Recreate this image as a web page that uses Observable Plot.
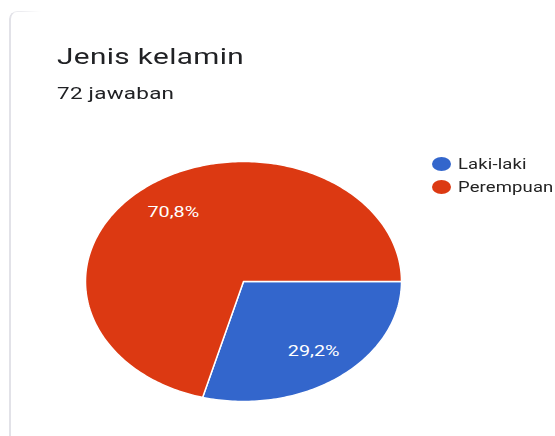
<!DOCTYPE html>
<html>
<head>
<meta charset="utf-8">
<script src="https://cdn.jsdelivr.net/npm/d3@7"></script>
<script src="https://cdn.jsdelivr.net/npm/@observablehq/plot@0.6"></script>
<style>
  html, body { margin: 0; padding: 0; background: #fff; width: 555px; height: 436px; overflow: hidden; font-family: Roboto, "Noto Sans", sans-serif; }
  #card { position: absolute; left: 9px; top: 11px; width: 30px; height: 425px; border-left: 2px solid #e2e2e8; border-top: 1px solid #ececf0; border-top-left-radius: 8px; -webkit-mask-image: linear-gradient(to right, #000 40%, transparent); }
  .stretch { transform: scaleX(1.32); transform-origin: 0 0; white-space: nowrap; }
  #title { position: absolute; left: 57px; top: 43px; font-size: 22.5px; line-height: 1.172; color: #202124; letter-spacing: 0.3px; }
  #subtitle { position: absolute; left: 57px; top: 84px; font-size: 17px; line-height: 1.172; color: #202124; letter-spacing: 0.2px; }
  #chart { position: absolute; left: 0; top: 140px; }
  #legend { position: absolute; left: 432px; top: 153px; font-size: 14px; color: #222; }
  #legend .item { display: flex; align-items: center; height: 22.5px; }
  #legend .sw { width: 19px; height: 14px; border-radius: 50%; margin-right: 7px; flex: none; }
  #legend .lbl { display: inline-block; transform: scaleX(1.32); transform-origin: 0 50%; white-space: nowrap; letter-spacing: 0.1px; }
</style>
</head>
<body>
<div id="card"></div>
<div id="title" class="stretch">Jenis kelamin</div>
<div id="subtitle" class="stretch">72 jawaban</div>
<div id="chart"></div>
<div id="legend"></div>
<script>
const categories = ["Laki-laki", "Perempuan"];
const counts = [21, 51];
const colors = ["#3366cc", "#dc3912"];
const startAngleDeg = 90; // first slice starts at 3 o'clock, clockwise

const total = d3.sum(counts);
const fmt = v => (Math.round(v * 1000) / 10).toFixed(1).replace(".", ",") + "%";

// Build slice polygons (unit circle, angle clockwise from top)
const rad = Math.PI / 180;
let acc = startAngleDeg;
const polys = [];
const labels = [];
categories.forEach((c, i) => {
  const span = counts[i] / total * 360;
  const a0 = acc, a1 = acc + span;
  polys.push({cat: c, x: 0, y: 0});
  const n = Math.ceil(span);
  for (let k = 0; k <= n; k++) {
    const a = (a0 + (a1 - a0) * k / n) * rad;
    polys.push({cat: c, x: Math.sin(a), y: Math.cos(a)});
  }
  polys.push({cat: c, x: 0, y: 0});
  const m = (a0 + a1) / 2 * rad;
  labels.push({cat: c, x: 0.73 * Math.sin(m), y: 0.73 * Math.cos(m), text: fmt(counts[i] / total)});
  acc = a1;
});

const plot = Plot.plot({
  width: 555,
  height: 280,
  margin: 0,
  x: {domain: [-1, 1], range: [85, 401], axis: null},
  y: {domain: [-1, 1], range: [261, 21], axis: null},
  color: {domain: categories, range: colors},
  marks: [
    Plot.line(polys, {x: "x", y: "y", z: "cat", fill: "cat", stroke: "white", strokeWidth: 1.5, curve: "linear"}),
    Plot.text(labels, {x: "x", y: "y", text: "text", fill: "white", fontSize: 15, fontFamily: "Roboto, sans-serif"})
  ]
});
// stretch the percentage labels horizontally about their anchor, like the reference
d3.select(plot).selectAll("text").each(function() {
  const t = d3.select(this);
  const x = +t.attr("x") || 0, y = +t.attr("y") || 0;
  const tr = t.attr("transform") || "";
  const m = /translate\(([-\d.]+),([-\d.]+)\)/.exec(tr);
  const tx = m ? +m[1] : 0, ty = m ? +m[2] : 0;
  const cx = tx + x;
  t.attr("transform", `translate(${cx},0) scale(1.32,1) translate(${-cx},0) ${tr}`);
});
document.getElementById("chart").appendChild(plot);

const legend = document.getElementById("legend");
categories.forEach((c, i) => {
  const item = document.createElement("div");
  item.className = "item";
  const sw = document.createElement("div");
  sw.className = "sw";
  sw.style.background = plot.scale("color").apply(c);
  const t = document.createElement("span");
  t.className = "lbl";
  t.textContent = c;
  item.appendChild(sw);
  item.appendChild(t);
  legend.appendChild(item);
});
</script>
</body>
</html>
